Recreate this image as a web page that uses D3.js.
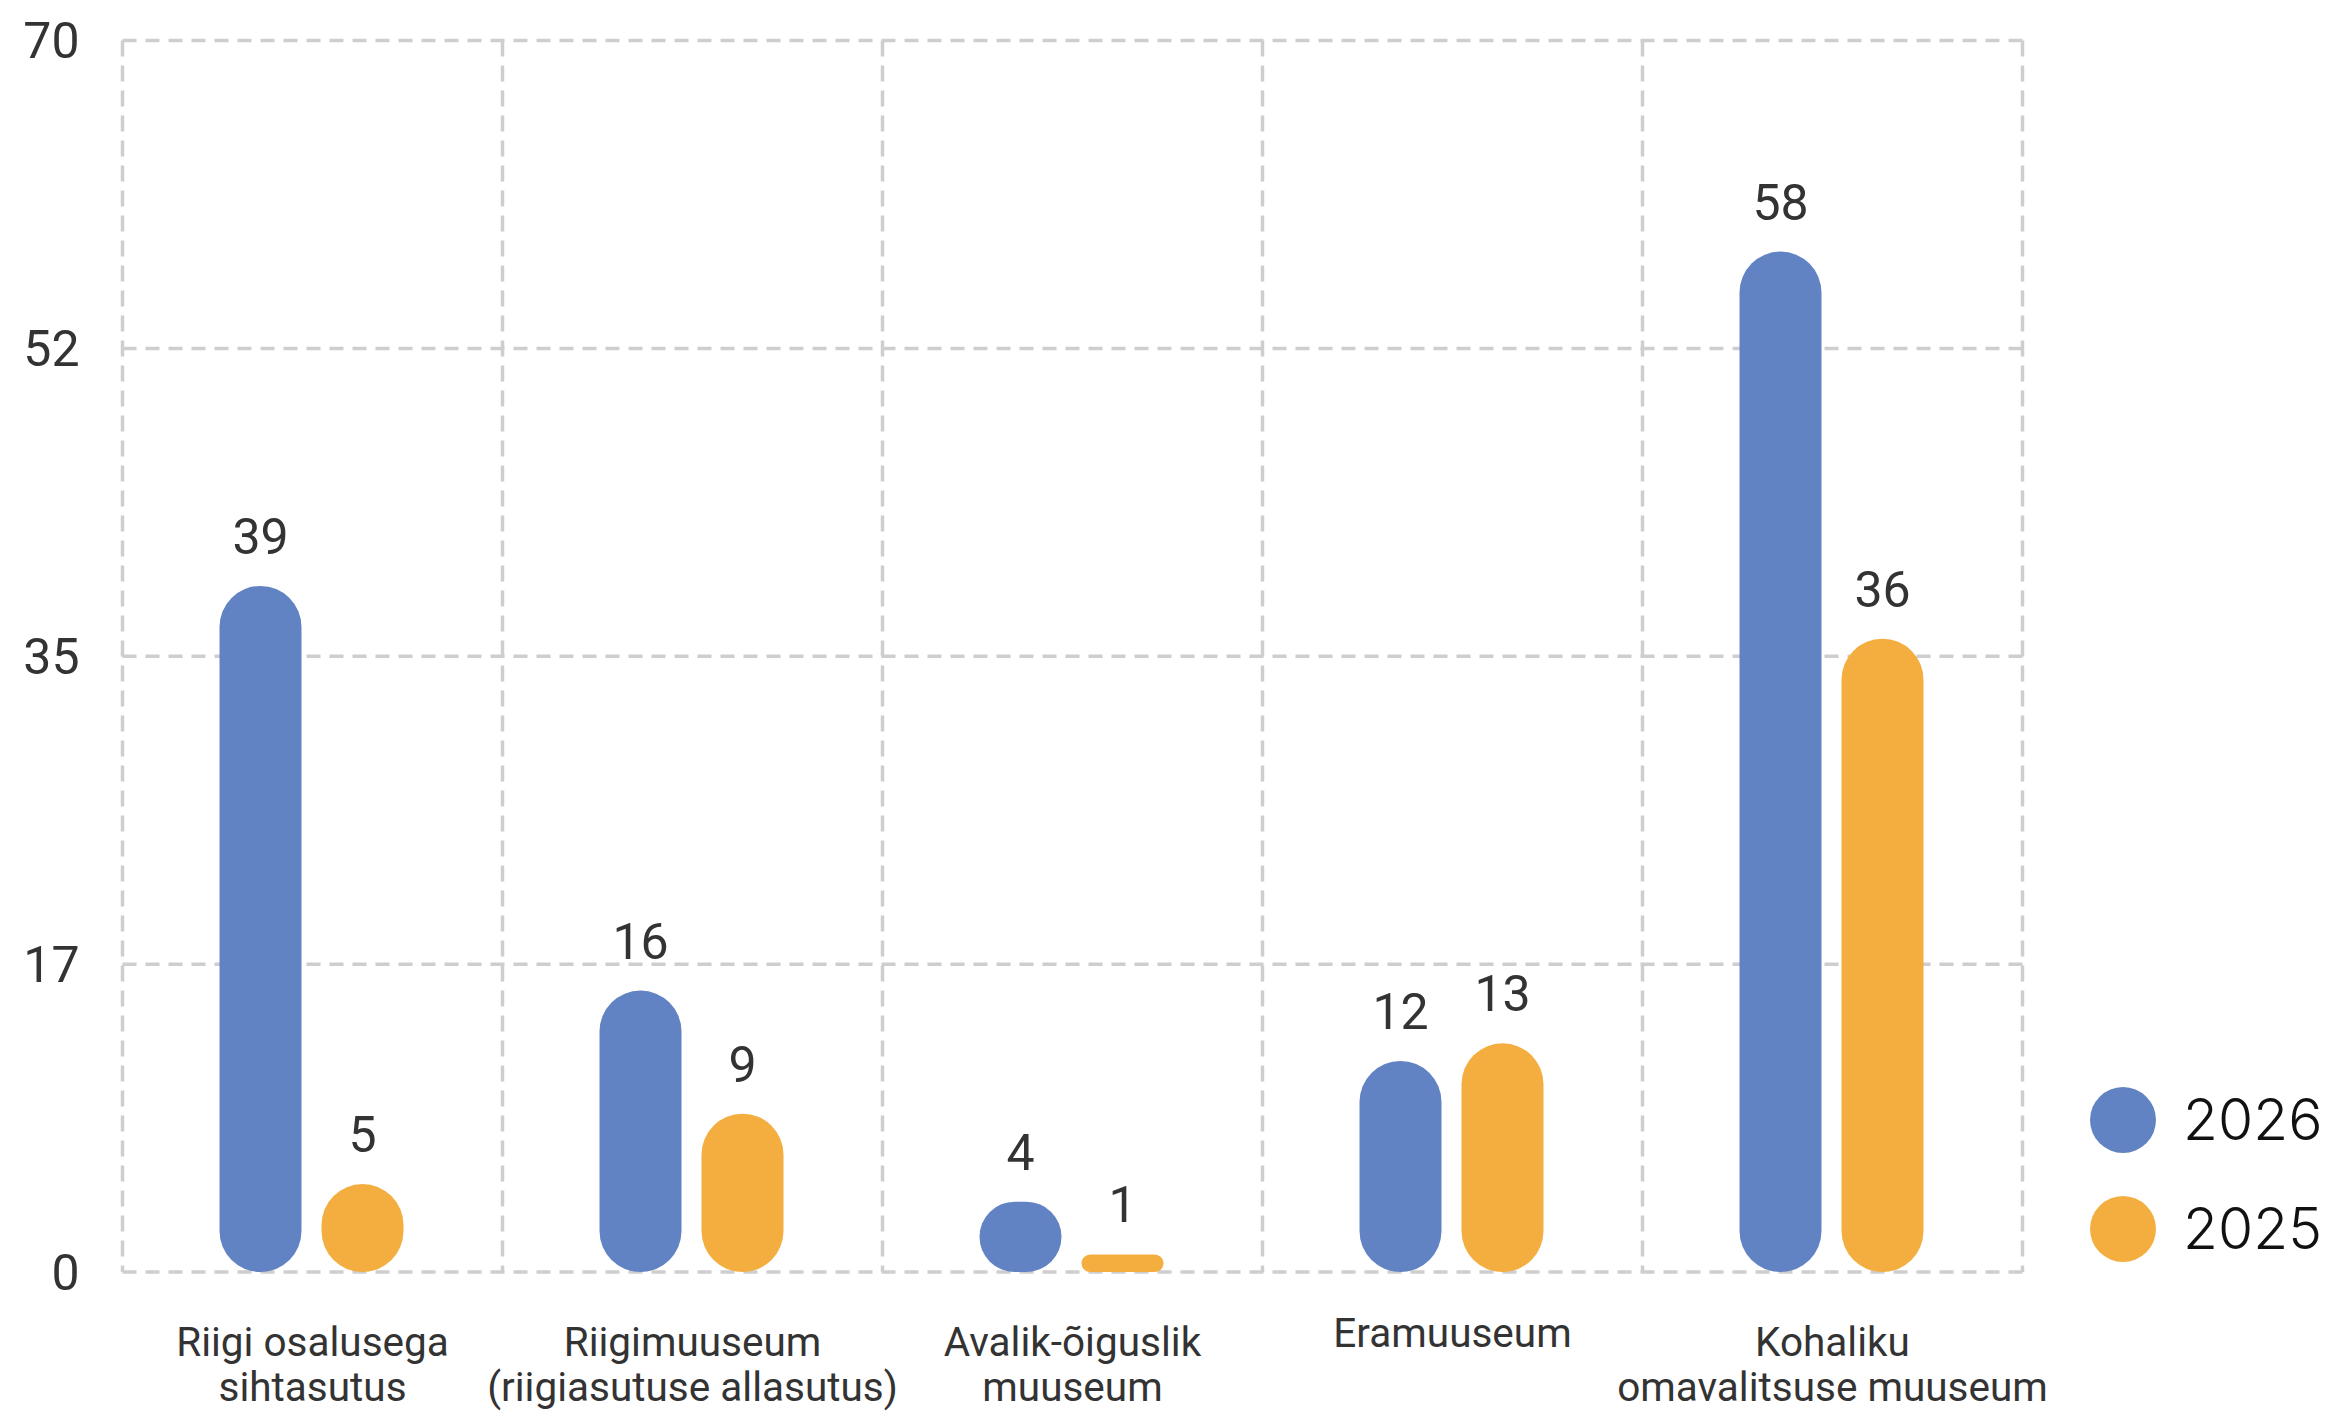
<!DOCTYPE html>
<html>
<head>
<meta charset="utf-8">
<script src="https://cdn.jsdelivr.net/npm/d3@7"></script>
<style>
  html, body { margin: 0; padding: 0; background: #fff; }
  svg { display: block; }
</style>
</head>
<body>
<svg id="chart" width="2331" height="1413"></svg>
<script>
// ---- data ----
const categories = [
  ["Riigi osalusega", "sihtasutus"],
  ["Riigimuuseum", "(riigiasutuse allasutus)"],
  ["Avalik-õiguslik", "muuseum"],
  ["Eramuuseum"],
  ["Kohaliku", "omavalitsuse muuseum"]
];
const seriesNames = ["2026", "2025"];
const values2026 = [39, 16, 4, 12, 58];
const values2025 = [5, 9, 1, 13, 36];
const yTicks = [0, 17.5, 35, 52.5, 70];
const yTickLabels = ["0", "17", "35", "52", "70"];
const colors = ["#6283c3", "#f4ae40"];

(function () {
// ---- layout ----
const svg = d3.select("#chart");
const plotLeft = 122.5, plotRight = 2022.5, plotTop = 40.5, plotBottom = 1272;
const catKeys = categories.map(c => c.join(" "));

const x0 = d3.scaleBand().domain(catKeys).range([plotLeft, plotRight]).padding(0);
const x1 = d3.scaleBand().domain(seriesNames).range([97, 281]).paddingInner(20 / 102).paddingOuter(0);
const y = d3.scaleLinear().domain([0, 70]).range([plotBottom, plotTop]);

svg.append("rect").attr("width", 2331).attr("height", 1413).attr("fill", "#fff");

// grid
const gridColor = "#cfcdcd";
const grid = svg.append("g");
grid.selectAll("line.h").data(yTicks).join("line")
  .attr("x1", plotLeft).attr("x2", plotRight)
  .attr("y1", d => y(d)).attr("y2", d => y(d))
  .attr("stroke", gridColor).attr("stroke-width", 3.5)
  .attr("stroke-dasharray", "14,9");
const vLines = catKeys.map(k => x0(k)).concat([plotRight]);
grid.selectAll("line.v").data(vLines).join("line")
  .attr("x1", d => d).attr("x2", d => d)
  .attr("y1", plotTop).attr("y2", plotBottom)
  .attr("stroke", gridColor).attr("stroke-width", 3.5)
  .attr("stroke-dasharray", "16,9");

// y axis labels
const yAxis = d3.axisLeft(y).tickValues(yTicks)
  .tickFormat((d, i) => yTickLabels[i]).tickSize(0).tickPadding(43);
const gy = svg.append("g").attr("transform", `translate(${plotLeft},0)`).call(yAxis);
gy.select(".domain").remove();
gy.selectAll("text")
  .attr("font-family", "Roboto, sans-serif")
  .attr("font-size", 50)
  .attr("fill", "#333")
  .attr("dy", "0.34em");

// bars
const rows = catKeys.map((k, i) => ({ key: k, vals: [values2026[i], values2025[i]] }));
const groups = svg.append("g").selectAll("g").data(rows).join("g")
  .attr("transform", d => `translate(${x0(d.key)},0)`);

groups.selectAll("rect").data(d => d.vals.map((v, j) => ({ v, s: seriesNames[j], j }))).join("rect")
  .attr("x", d => x1(d.s))
  .attr("width", x1.bandwidth())
  .attr("y", d => y(d.v))
  .attr("height", d => y(0) - y(d.v))
  .attr("rx", d => Math.min(x1.bandwidth() / 2, (y(0) - y(d.v)) / 2))
  .attr("ry", d => Math.min(x1.bandwidth() / 2, (y(0) - y(d.v)) / 2))
  .attr("fill", d => colors[d.j]);

groups.selectAll("text").data(d => d.vals.map((v, j) => ({ v, s: seriesNames[j], j }))).join("text")
  .attr("x", d => x1(d.s) + x1.bandwidth() / 2)
  .attr("y", d => y(d.v) - 32)
  .attr("text-anchor", "middle")
  .attr("font-family", "Roboto, sans-serif")
  .attr("font-size", 50)
  .attr("fill", "#333")
  .text(d => d.v);

// category labels
const labels = svg.append("g").selectAll("text").data(categories).join("text")
  .attr("text-anchor", "middle")
  .attr("font-family", "Roboto, sans-serif")
  .attr("font-size", 40.5)
  .attr("fill", "#333")
  .attr("transform", (d, i) => `translate(${x0(catKeys[i]) + x0.bandwidth() / 2},${d.length > 1 ? 1356 : 1347})`);
labels.selectAll("tspan").data(d => d).join("tspan")
  .attr("x", 0)
  .attr("dy", (d, i) => i === 0 ? 0 : 45)
  .text(d => d);

// legend
const legend = svg.append("g").selectAll("g").data(seriesNames).join("g")
  .attr("transform", (d, i) => `translate(2123,${1120 + i * 109})`);
legend.append("circle").attr("r", 33).attr("fill", (d, i) => colors[i]);
legend.append("text")
  .attr("x", 60).attr("y", 20)
  .attr("font-family", "Inter, sans-serif")
  .attr("font-weight", 300)
  .attr("font-size", 57)
  .attr("fill", "#111")
  .text(d => d);
})();
</script>
</body>
</html>
